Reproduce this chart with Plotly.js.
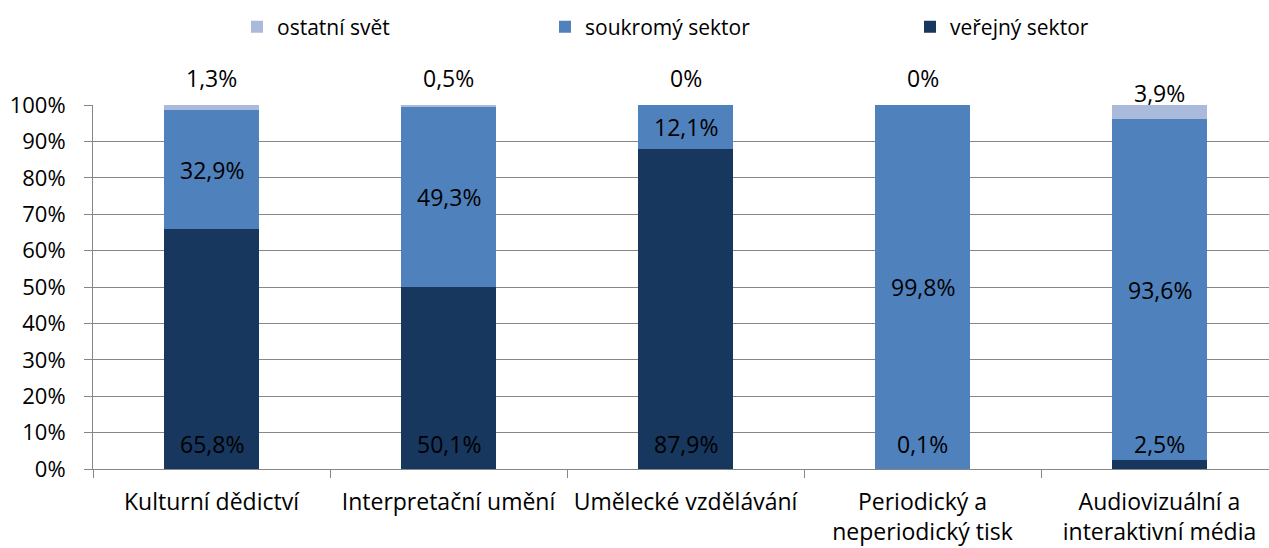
<!DOCTYPE html>
<html>
<head>
<meta charset="utf-8">
<script src="https://cdn.plot.ly/plotly-3.0.1.min.js"></script>
<style>html,body{margin:0;padding:0;background:#fff;}#chart{width:1269px;height:548px;}</style>
</head>
<body>
<div id="chart"></div>
<script>
const categories = ["Kulturní dědictví", "Interpretační umění", "Umělecké vzdělávání", "Periodický a<br>neperiodický tisk", "Audiovizuální a<br>interaktivní média"];
const verejny = [65.8, 50.1, 87.9, 0.1, 2.5];
const soukromy = [32.9, 49.3, 12.1, 99.8, 93.6];
const ostatni = [1.3, 0.5, 0, 0, 3.9];
const yTicks = [0, 10, 20, 30, 40, 50, 60, 70, 80, 90, 100];

const FONT = "'Open Sans', sans-serif";
const FS = 23;
const fmt = v => (v === 0 ? "0" : v.toFixed(1).replace(".", ",")) + "%";

const traces = [
  {type: "bar", name: "veřejný sektor", x: categories, y: verejny, marker: {color: "#17375E"}, legend: "legend3", hoverinfo: "skip"},
  {type: "bar", name: "soukromý sektor", x: categories, y: soukromy, marker: {color: "#4F81BD"}, legend: "legend2", hoverinfo: "skip"},
  {type: "bar", name: "ostatní svět", x: categories, y: ostatni, marker: {color: "#A9BADB"}, legend: "legend", hoverinfo: "skip"}
];

const topShift = [27, 27, 27, 27, 12];
const annFont = {family: FONT, size: FS, color: "#000"};
const annotations = [];
categories.forEach((c, i) => {
  annotations.push({x: c, y: 7, text: fmt(verejny[i]), showarrow: false, font: annFont, yanchor: "middle"});
  annotations.push({x: c, y: verejny[i] + soukromy[i] / 2, text: fmt(soukromy[i]), showarrow: false, font: annFont, yanchor: "middle"});
  annotations.push({x: c, y: 100, yshift: topShift[i], text: fmt(ostatni[i]), showarrow: false, font: annFont, yanchor: "middle"});
});

const legBase = {orientation: "h", xref: "container", yref: "container", yanchor: "middle", xanchor: "left", y: 1 - 27 / 548, font: {family: FONT, size: 21, color: "#000"}, bgcolor: "rgba(0,0,0,0)"};

const layout = {
  width: 1269, height: 548,
  margin: {l: 93, r: 0, t: 105, b: 79},
  paper_bgcolor: "#fff", plot_bgcolor: "#fff",
  barmode: "stack", bargap: 0.6,
  font: {family: FONT, size: FS, color: "#000"},
  showlegend: true,
  legend: Object.assign({}, legBase, {x: 237 / 1269}),
  legend2: Object.assign({}, legBase, {x: 545 / 1269}),
  legend3: Object.assign({}, legBase, {x: 910 / 1269}),
  xaxis: {
    type: "category", range: [-0.5, 4.462],
    showline: true, linecolor: "#868686", linewidth: 1,
    ticks: "outside", tickson: "boundaries", ticklen: 8, tickcolor: "#868686",
    showgrid: false, tickfont: {family: FONT, size: FS, color: "#000"},
    ticklabelstandoff: 12, fixedrange: true
  },
  yaxis: {
    range: [0, 100], tickvals: yTicks, ticktext: yTicks.map(v => v + "%"),
    showline: true, linecolor: "#868686", linewidth: 1,
    ticks: "outside", ticklen: 8, tickcolor: "#868686",
    showgrid: true, gridcolor: "#868686", gridwidth: 1, zeroline: false,
    tickfont: {family: FONT, size: 22, color: "#000"},
    ticklabelstandoff: 14, fixedrange: true
  },
  annotations: annotations
};

Plotly.newPlot("chart", traces, layout, {displayModeBar: false, staticPlot: true});
</script>
</body>
</html>
